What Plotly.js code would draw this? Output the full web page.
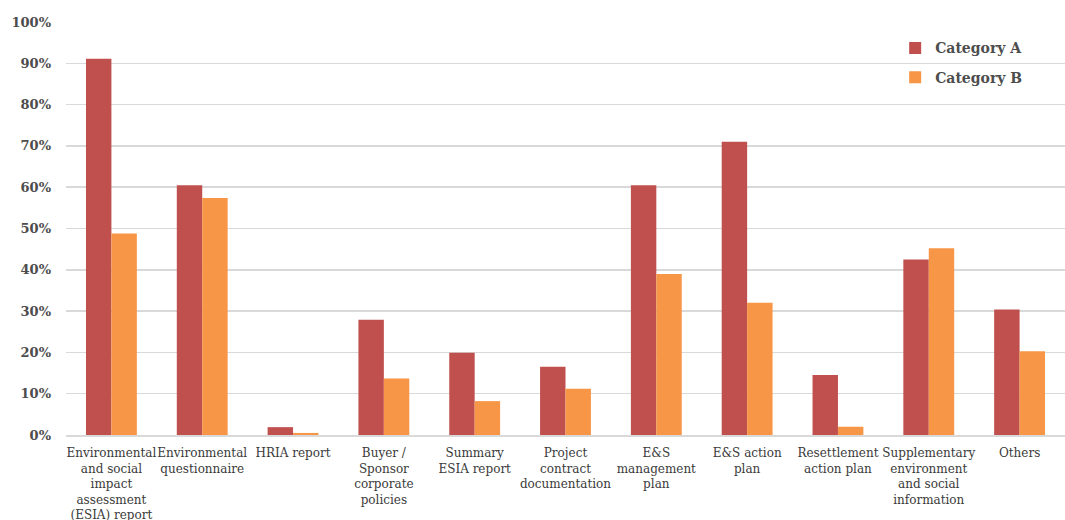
<!DOCTYPE html>
<html>
<head>
<meta charset="utf-8">
<script src="https://cdn.plot.ly/plotly-3.0.1.min.js"></script>
<style>
  html, body { margin: 0; padding: 0; background: #ffffff; }
  #chart { width: 1065px; height: 520px; }
</style>
</head>
<body>
<div id="chart"></div>
<script>
// Document types, with share of reviews that requested each
const categories = [
  "Environmental<br>and social<br>impact<br>assessment<br>(ESIA) report",
  "Environmental<br>questionnaire",
  "HRIA report",
  "Buyer /<br>Sponsor<br>corporate<br>policies",
  "Summary<br>ESIA report",
  "Project<br>contract<br>documentation",
  "E&S<br>management<br>plan",
  "E&S action<br>plan",
  "Resettlement<br>action plan",
  "Supplementary<br>environment<br>and social<br>information",
  "Others"
];
const categoryA = [0.911, 0.605, 0.019, 0.279, 0.199, 0.165, 0.605, 0.710, 0.145, 0.425, 0.304];
const categoryB = [0.488, 0.574, 0.005, 0.137, 0.082, 0.112, 0.390, 0.320, 0.020, 0.452, 0.203];
const seriesNames = ["Category A", "Category B"];
const seriesColors = ["#C0504D", "#F79646"];

const serif = "DejaVu Serif";
const textColor = "#4d4d4d";
const textFont = { family: serif, size: 12, color: textColor, weight: "bold" };

const traces = [categoryA, categoryB].map((vals, i) => ({
  type: "bar",
  name: seriesNames[i],
  x: categories,
  y: vals,
  legendgroup: "g" + i,
  marker: { color: seriesColors[i], line: { width: 0 } },
  hoverinfo: "x+y+name"
}));

const layout = {
  width: 1065,
  height: 520,
  margin: { l: 66, r: 0, t: 22, b: 85 },
  paper_bgcolor: "#ffffff",
  plot_bgcolor: "#ffffff",
  barmode: "group",
  bargap: 0.44,
  bargroupgap: 0,
  font: textFont,
  showlegend: true,
  legend: {
    x: 0.83, y: 0.975, xanchor: "left", yanchor: "top",
    traceorder: "grouped",
    tracegroupgap: 8,
    font: { family: serif, size: 14, color: textColor, weight: "bold" },
    bgcolor: "rgba(0,0,0,0)",
    itemwidth: 30
  },
  xaxis: {
    type: "category",
    showgrid: false,
    showline: true,
    linecolor: "#d9d9d9",
    linewidth: 1.5,
    ticks: "",
    tickangle: 0,
    ticklabelstandoff: 6,
    tickfont: { family: serif, size: 12, color: "#3a3a3a", weight: "normal" },
    automargin: false
  },
  yaxis: {
    range: [0, 1],
    dtick: 0.1,
    tickformat: ".0%",
    showgrid: true,
    gridcolor: "#d9d9d9",
    gridwidth: 1.5,
    zeroline: false,
    showline: false,
    ticks: "",
    ticklabelstandoff: 14,
    tickfont: { family: serif, size: 13, color: textColor, weight: "bold" },
    automargin: false
  }
};

Plotly.newPlot("chart", traces, layout, { displayModeBar: false, staticPlot: true });
</script>
</body>
</html>
